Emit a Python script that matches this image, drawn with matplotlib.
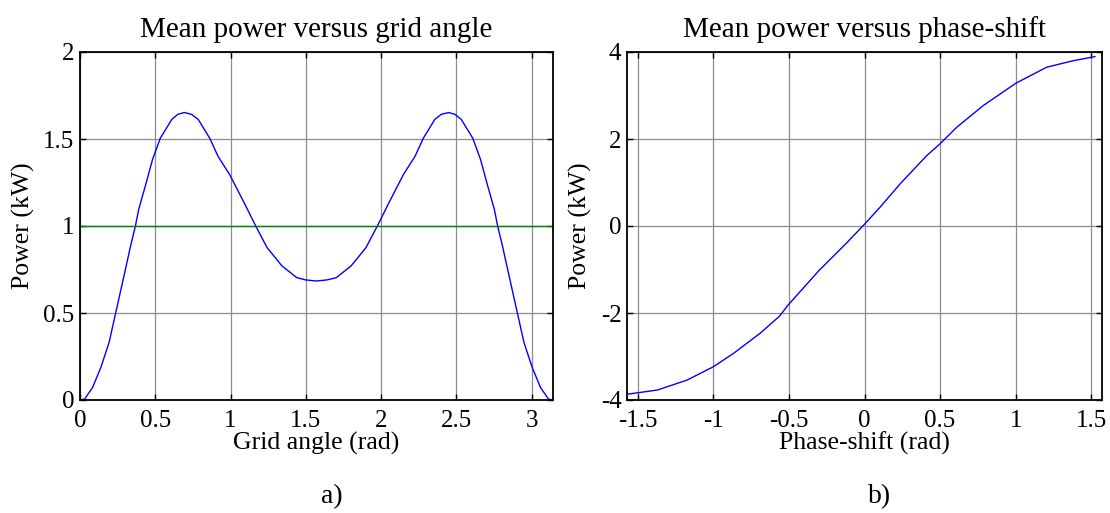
import matplotlib
matplotlib.use("Agg")
import matplotlib.pyplot as plt
import numpy as np

# ---- data: panel a) mean power vs grid angle ----
grid_angle = [0.0, 0.03, 0.083, 0.138, 0.193, 0.237, 0.292, 0.336, 0.368, 0.39,
              0.434, 0.482, 0.533, 0.61, 0.65, 0.693, 0.74, 0.785, 0.862, 0.917,
              0.993, 1.09, 1.167, 1.243, 1.342, 1.44, 1.50, 1.571, 1.64, 1.702,
              1.80, 1.899, 1.975, 2.052, 2.149, 2.225, 2.280, 2.357, 2.40, 2.449,
              2.49, 2.532, 2.609, 2.660, 2.708, 2.752, 2.774, 2.806, 2.850, 2.905,
              2.949, 3.004, 3.059, 3.112, 3.1416]
power_a = [0.0, 0.005, 0.071, 0.186, 0.33, 0.5, 0.713, 0.885, 1.0, 1.096,
           1.23, 1.383, 1.504, 1.613, 1.642, 1.652, 1.642, 1.613, 1.504, 1.40,
           1.297, 1.134, 1.0, 0.875, 0.77, 0.703, 0.69, 0.684, 0.69, 0.703,
           0.77, 0.875, 1.0, 1.134, 1.297, 1.40, 1.504, 1.613, 1.642, 1.652,
           1.642, 1.613, 1.504, 1.383, 1.23, 1.096, 1.0, 0.885, 0.713, 0.5,
           0.33, 0.186, 0.071, 0.005, 0.0]
reference_level = 1.0

# ---- data: panel b) mean power vs phase-shift ----
phase_shift = [-1.561, -1.369, -1.172, -1.0, -0.867, -0.692, -0.561, -0.506,
               -0.30, -0.124, 0.0, 0.104, 0.236, 0.412, 0.5, 0.61, 0.786,
               1.0, 1.205, 1.381, 1.524]
power_b = [-3.864, -3.77, -3.54, -3.236, -2.93, -2.47, -2.07, -1.82,
           -1.02, -0.41, 0.04, 0.436, 0.97, 1.62, 1.89, 2.27, 2.77,
           3.28, 3.65, 3.80, 3.894]

xticks_a = [0, 0.5, 1, 1.5, 2, 2.5, 3]
xticklabels_a = ["0", "0.5", "1", "1.5", "2", "2.5", "3"]
yticks_a = [0, 0.5, 1, 1.5, 2]
yticklabels_a = ["0", "0.5", "1", "1.5", "2"]
xticks_b = [-1.5, -1, -0.5, 0, 0.5, 1, 1.5]
xticklabels_b = ["-1.5", "-1", "-0.5", "0", "0.5", "1", "1.5"]
yticks_b = [-4, -2, 0, 2, 4]
yticklabels_b = ["-4", "-2", "0", "2", "4"]

plt.rcParams['font.family'] = ['Liberation Serif', 'DejaVu Serif']

fig = plt.figure(figsize=(11.1, 5.13), dpi=100)
W, H = 1110, 513
def rect(l, r, t, b):
    return [l / W, (H - b) / H, (r - l) / W, (b - t) / H]

ax1 = fig.add_axes(rect(80, 553, 52, 400))
ax2 = fig.add_axes(rect(627, 1102, 52, 400))

grid_kw = dict(color='#8c8c8c', linewidth=0.9, linestyle='-')

def style(ax):
    for s in ax.spines.values():
        s.set_linewidth(1.3)
        s.set_color('black')
    ax.tick_params(direction='in', length=4, width=1.0, top=True, right=True,
                   labelsize=18)
    ax.tick_params(axis='x', pad=7)
    ax.tick_params(axis='y', pad=4)
    ax.grid(True, **grid_kw)
    ax.set_axisbelow(True)

ax1.plot(grid_angle, power_a, color='#0000ff', linewidth=1.0)
ax1.axhline(reference_level, color='#008000', linewidth=1.0)
ax1.set_xlim(0, np.pi)
ax1.set_ylim(0, 2)
ax1.set_xticks(xticks_a, xticklabels_a)
ax1.set_yticks(yticks_a, yticklabels_a)
style(ax1)
ax1.set_title("Mean power versus grid angle", fontsize=21, pad=11)
ax1.set_xlabel("Grid angle (rad)", fontsize=18.5, labelpad=0)
ax1.set_ylabel("Power (kW)", fontsize=18.5, labelpad=6)

ax2.plot(phase_shift, power_b, color='#0000ff', linewidth=1.0)
ax2.set_xlim(-np.pi / 2, np.pi / 2)
ax2.set_ylim(-4, 4)
ax2.set_xticks(xticks_b, xticklabels_b)
ax2.set_yticks(yticks_b, yticklabels_b)
style(ax2)
ax2.set_title("Mean power versus phase-shift", fontsize=21, pad=11)
ax2.set_xlabel("Phase-shift (rad)", fontsize=18.5, labelpad=0)
ax2.set_ylabel("Power (kW)", fontsize=18.5, labelpad=6)

fig.text(332 / W, 1 - 497 / H, "a)", fontsize=20, ha='center', va='center')
fig.text(880 / W, 1 - 497 / H, "b)", fontsize=20, ha='center', va='center')

fig.savefig("out.png", dpi=100)
